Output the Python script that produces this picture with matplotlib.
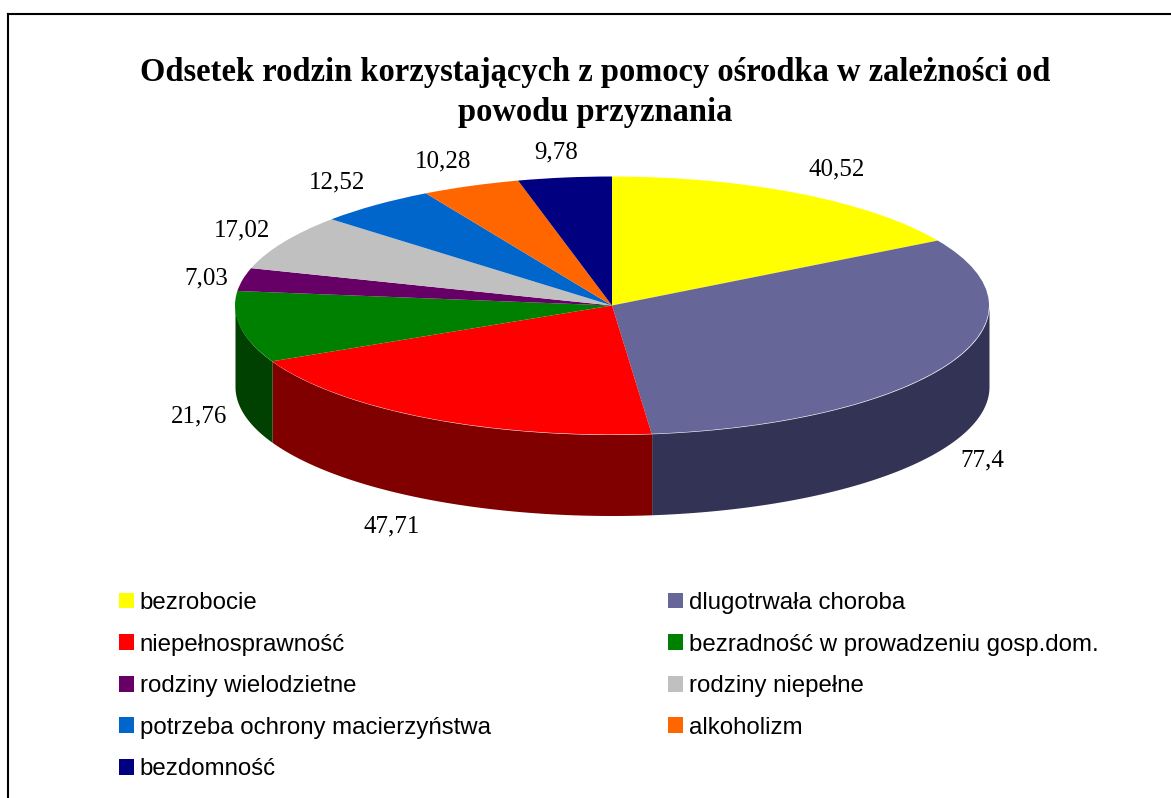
# -*- coding: utf-8 -*-
import matplotlib
matplotlib.use("Agg")
import matplotlib.pyplot as plt
import numpy as np
from matplotlib.lines import Line2D

W, H = 1171, 798

categories = ["bezrobocie", "dlugotrwała choroba", "niepełnosprawność",
              "bezradność w prowadzeniu gosp.dom.", "rodziny wielodzietne",
              "rodziny niepełne", "potrzeba ochrony macierzyństwa",
              "alkoholizm", "bezdomność"]
values = [40.52, 77.4, 47.71, 21.76, 7.03, 17.02, 12.52, 10.28, 9.78]
top_colors = ["#FFFF00", "#666699", "#FF0000", "#008000", "#660066",
              "#C0C0C0", "#0066CC", "#FF6600", "#000080"]
side_colors = ["#808000", "#333355", "#800000", "#004000", "#330033",
               "#606060", "#003366", "#803300", "#000040"]
title = "Odsetek rodzin korzystających z pomocy ośrodka w zależności od\npowodu przyznania"

# label centres in picture pixels
label_xy = [(837, 169), (982, 460), (392, 526), (199, 416), (206, 278),
            (242, 230), (337, 182), (443, 161), (556, 152)]

# pie ellipse in picture pixels
CX, CY, RX, RY, DEPTH = 612, 305.5, 377, 129, 81


def fx(x):
    return x / W


def fy(y):
    return 1 - y / H


fig = plt.figure(figsize=(W / 100, H / 100), dpi=100)

# frame, cut by the right and bottom of the picture
fig.add_artist(Line2D([fx(8), 1], [fy(14.3), fy(14.3)], color="black", lw=1.5))
fig.add_artist(Line2D([fx(8), fx(8)], [fy(13.5), 0], color="black", lw=1.5))

fig.text(fx(595.5), fy(72), title.split("\n")[0], family="Liberation Serif",
         fontweight="bold", fontsize=23.45, ha="center", va="center")
fig.text(fx(595.5), fy(113), title.split("\n")[1], family="Liberation Serif",
         fontweight="bold", fontsize=23.45, ha="center", va="center")

depth = DEPTH / RY
ax = fig.add_axes([fx(CX - RX), fy(CY + RY + DEPTH), 2 * RX / W,
                   (2 * RY + DEPTH) / H])

wedges, _ = ax.pie(values, colors=top_colors, startangle=90, counterclock=False,
                   radius=1, wedgeprops=dict(linewidth=0))
ax.set_aspect("auto")
ax.set_xlim(-1, 1)
ax.set_ylim(-1 - depth, 1)
for w in wedges:
    w.set_zorder(3)
    w.set_clip_on(False)

# side wall: only the front half of the rim shows
ends = 90 - np.cumsum(values) / sum(values) * 360
starts = np.r_[90, ends[:-1]]
for a0, a1, c in zip(starts, ends, side_colors):
    a_hi = np.radians(min(a0, 0))
    a_lo = np.radians(max(a1, -180))
    if a_lo >= a_hi:
        continue
    t = np.linspace(a_lo, a_hi, 80)
    ax.fill_between(np.cos(t), np.sin(t), np.sin(t) - depth, color=c,
                    linewidth=0, zorder=2, clip_on=False)

for v, (x, y) in zip(values, label_xy):
    fig.text(fx(x), fy(y), str(v).replace(".", ","), family="Liberation Serif",
             fontsize=18, ha="center", va="center", color="black")

# legend is filled column by column, the picture reads row by row
order = [0, 2, 4, 6, 8, 1, 3, 5, 7]
leg = fig.legend([wedges[i] for i in order], [categories[i] for i in order],
                 ncols=2, loc="upper left", bbox_to_anchor=(fx(119), fy(592)),
                 borderaxespad=0, borderpad=0, frameon=False,
                 prop=dict(family="Liberation Sans", size=17.3),
                 handlelength=0.63, handleheight=0.63, handletextpad=0.24,
                 labelspacing=0.815, columnspacing=7.355)

fig.savefig("out.png", dpi=100)
plt.close(fig)
